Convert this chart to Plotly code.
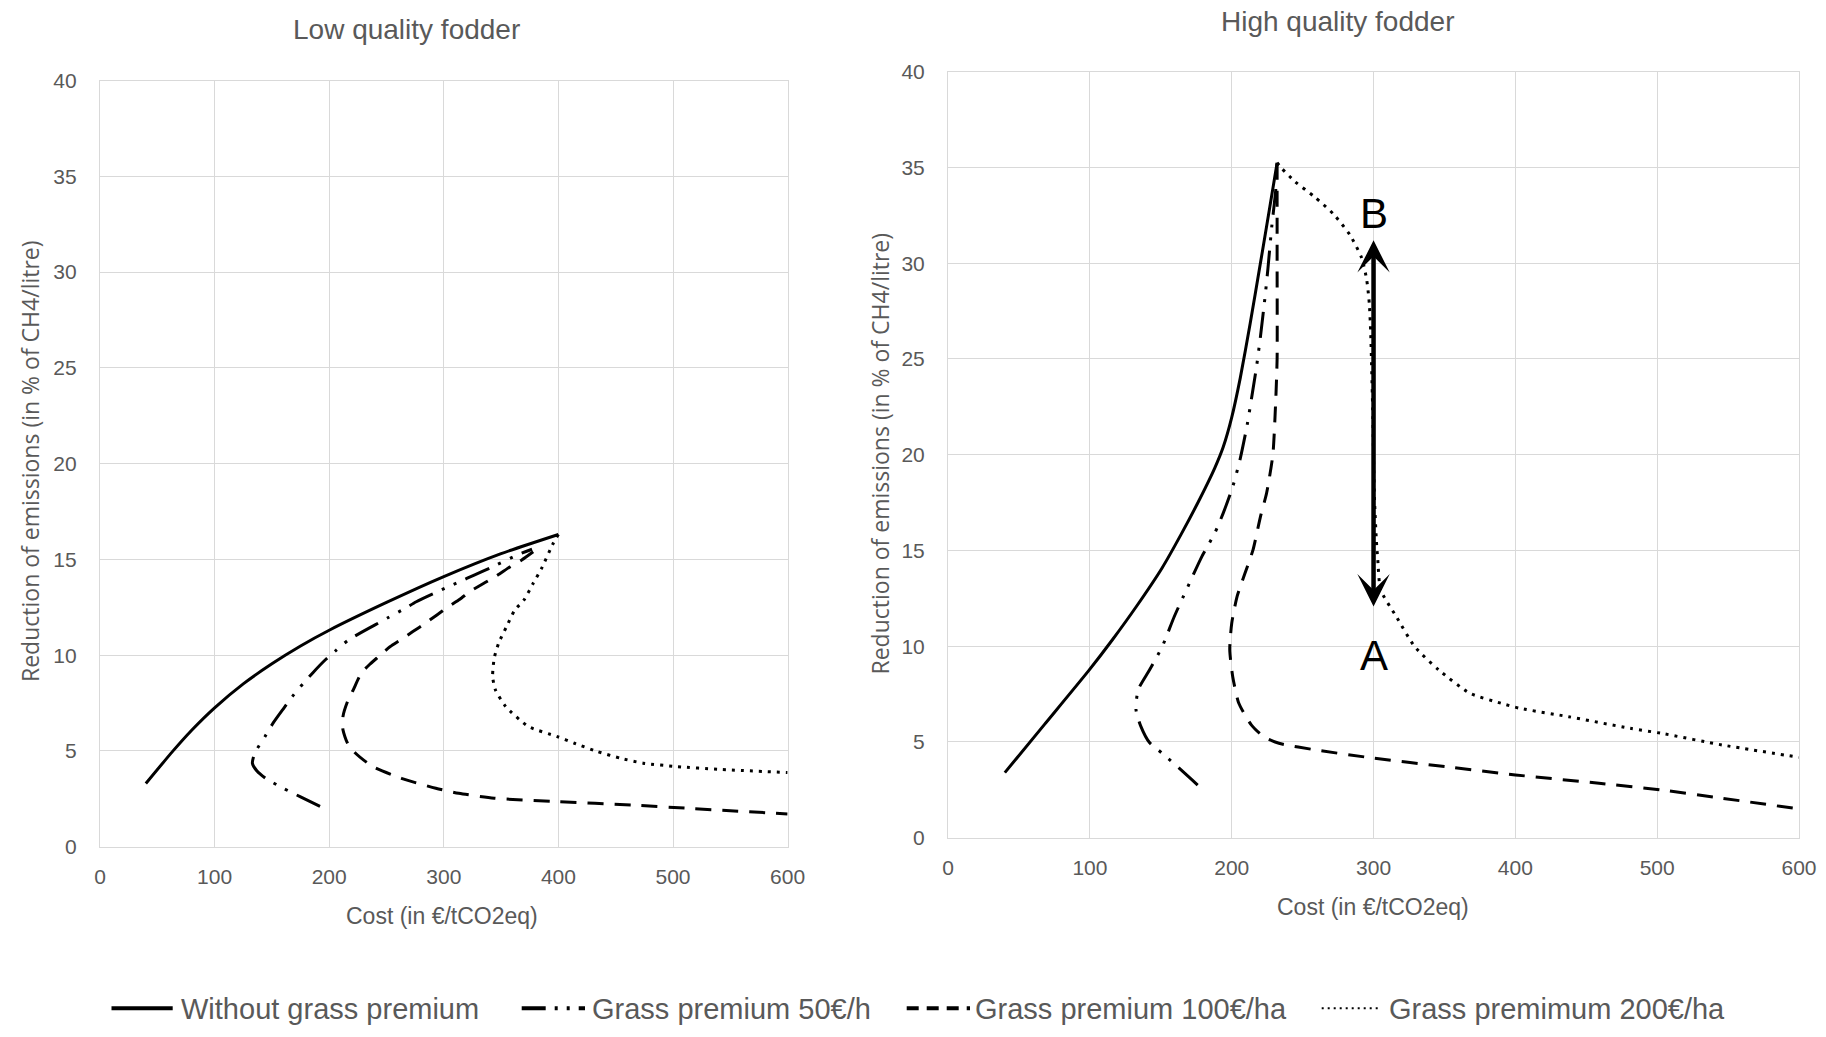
import plotly.graph_objects as go

W, H = 1826, 1037

# ---------------- data ----------------
SERIES_NAMES = ["Without grass premium", "Grass premium 50€/h",
                "Grass premium 100€/ha", "Grass premimum 200€/ha"]

# Low quality fodder
LOW_NONE_X = [40, 63, 80, 100, 125, 150, 175, 200, 250, 300, 350, 400]
LOW_NONE_Y = [3.3, 4.95, 6.08, 7.25, 8.5, 9.55, 10.48, 11.3, 12.75, 14.1, 15.3, 16.3]

LOW_50_X = [192, 175, 160, 145, 137, 133, 134, 136, 144, 151, 160, 168, 177, 186, 196,
            206, 217, 240, 252, 265, 276, 301, 314, 327, 340, 364, 377]
LOW_50_Y = [2.1, 2.6, 3.05, 3.55, 3.95, 4.35, 4.7, 5.0, 5.75, 6.45, 7.2, 7.85, 8.5, 9.1, 9.72,
            10.25, 10.8, 11.58, 11.98, 12.4, 12.79, 13.49, 13.84, 14.19, 14.54, 15.23, 15.53]

LOW_100_X = [378, 368, 358, 346, 336, 324, 314, 304, 294, 284, 273, 262, 253, 243, 235, 228,
             221, 216, 212, 212, 216, 223, 238, 263, 293, 313, 344, 400, 464, 514, 600]
LOW_100_Y = [15.4, 14.97, 14.62, 14.14, 13.79, 13.37, 12.92, 12.53, 12.1, 11.67, 11.23, 10.79,
             10.44, 9.92, 9.5, 9.06, 8.19, 7.58, 6.79, 6.1, 5.4, 4.88, 4.18, 3.57, 3.05, 2.79,
             2.53, 2.35, 2.18, 2.0, 1.71]

LOW_200_X = [400, 395.5, 385.4, 378, 370, 362, 355, 348, 344, 342.6, 345, 354, 374, 399, 414,
             434, 454, 474, 504, 539, 600]
LOW_200_Y = [16.3, 15.84, 14.54, 13.75, 12.88, 12.36, 11.52, 10.65, 9.84, 8.89, 8.19, 7.32,
             6.27, 5.75, 5.4, 4.97, 4.62, 4.36, 4.18, 4.04, 3.87]

# High quality fodder
HIGH_NONE_X = [40, 68, 99, 116, 133, 151, 164, 177, 188, 194, 200, 206, 213, 220, 227, 232]
HIGH_NONE_Y = [3.4, 5.92, 8.71, 10.35, 12.1, 14.1, 15.8, 17.62, 19.3, 20.4, 21.95, 24.0,
               26.85, 29.9, 33.0, 35.25]

HIGH_50_X = [176, 167, 151, 142, 136, 132.5, 134, 142, 151, 159.5, 168, 179, 188, 194, 201,
             206, 211, 214.5, 217.5, 220.3, 223.5, 225.5, 228.2, 231, 232]
HIGH_50_Y = [2.75, 3.36, 4.41, 4.97, 5.8, 6.67, 7.72, 8.76, 9.98, 11.55, 12.94, 14.69, 15.9,
             16.95, 18.4, 19.8, 21.6, 23.2, 24.6, 26.2, 28.25, 29.7, 31.9, 33.8, 35.2]

HIGH_100_X = [232, 232, 232, 231, 229, 224.6, 220.3, 215, 209.4, 203.8, 200, 198.6, 200.7,
              205, 213.8, 222.4, 233.3, 259.4, 300.6, 350.6, 400, 459, 503, 546, 600]
HIGH_100_Y = [35.2, 30, 25, 22.8, 20, 18.0, 16.78, 15.03, 13.82, 12.6, 11.2, 9.81, 8.41,
              7.02, 5.89, 5.28, 4.93, 4.58, 4.15, 3.71, 3.28, 2.84, 2.49, 2.06, 1.5]

HIGH_200_X = [232, 235, 244.6, 258.8, 271.7, 283.4, 291.7, 295.2, 297, 298, 299.5, 300.5,
              302, 303, 305, 316, 329, 346, 368, 390, 403, 437.5, 481, 503, 546, 600]
HIGH_200_Y = [35.25, 34.97, 34.26, 33.44, 32.57, 31.47, 30.26, 29.12, 27.9, 26.34, 22, 18,
              15.5, 14.5, 12.94, 11.55, 9.98, 8.76, 7.54, 7.02, 6.76, 6.32, 5.71, 5.45, 4.84,
              4.2]

# arrow between points A and B (high quality panel)
ARROW_X = 300
ARROW_Y = [12.0, 31.2]
LABEL_A = (300, 9.5)
LABEL_B = (300, 32.6)

X_TICKS = [0, 100, 200, 300, 400, 500, 600]
Y_TICKS = [0, 5, 10, 15, 20, 25, 30, 35, 40]

PANEL_TITLES = ["Low quality fodder", "High quality fodder"]
X_TITLE = "Cost (in €/tCO2eq)"
Y_TITLE = "Reduction of emissions (in % of CH4/litre)"

# ---------------- styles ----------------
DASHES = ["solid", "26px,10px,3px,10px,3px,10px", "16px,11px", "3px,6px"]
LINE_W = 3
GREY = "#595959"
GRID = "#d9d9d9"
FONT = "Liberation Sans, Arial, sans-serif"

fig = go.Figure()

low = [(LOW_NONE_X, LOW_NONE_Y), (LOW_50_X, LOW_50_Y), (LOW_100_X, LOW_100_Y), (LOW_200_X, LOW_200_Y)]
high = [(HIGH_NONE_X, HIGH_NONE_Y), (HIGH_50_X, HIGH_50_Y), (HIGH_100_X, HIGH_100_Y), (HIGH_200_X, HIGH_200_Y)]

for i, (xs, ys) in enumerate(low):
    fig.add_trace(go.Scatter(x=xs, y=ys, mode="lines", name=SERIES_NAMES[i], showlegend=False,
                             line=dict(color="black", width=LINE_W, dash=DASHES[i],
                                       shape="spline", smoothing=0.6),
                             xaxis="x", yaxis="y"))
for i, (xs, ys) in enumerate(high):
    fig.add_trace(go.Scatter(x=xs, y=ys, mode="lines", name=SERIES_NAMES[i], showlegend=False,
                             line=dict(color="black", width=LINE_W, dash=DASHES[i],
                                       shape="spline", smoothing=0.6),
                             xaxis="x2", yaxis="y2"))


def px_x(p):
    return p / W


def px_y(p):
    return 1 - p / H


axis_common = dict(showgrid=True, gridcolor=GRID, gridwidth=1.3, zeroline=False,
                   showline=True, linecolor=GRID, linewidth=1.3, mirror=True,
                   automargin=False,
                   ticks="", tickfont=dict(family=FONT, size=21, color=GREY))

fig.update_layout(
    width=W, height=H, autosize=False,
    margin=dict(l=0, r=0, t=0, b=0, pad=0),
    paper_bgcolor="white", plot_bgcolor="white",
    showlegend=False,
    xaxis=dict(domain=[px_x(100), px_x(787.6)], range=[0, 600], tickvals=X_TICKS,
               anchor="y", ticklabelstandoff=11, **axis_common),
    yaxis=dict(domain=[px_y(846.7), px_y(80.5)], range=[0, 40], tickvals=Y_TICKS,
               anchor="x", ticklabelstandoff=18, **axis_common),
    xaxis2=dict(domain=[px_x(948.1), px_x(1799)], range=[0, 600], tickvals=X_TICKS,
                anchor="y2", ticklabelstandoff=11, **axis_common),
    yaxis2=dict(domain=[px_y(837.7), px_y(71.7)], range=[0, 40], tickvals=Y_TICKS,
                anchor="x2", ticklabelstandoff=18, **axis_common),
)

ann = []
# panel titles
ann.append(dict(text=PANEL_TITLES[0], x=px_x(406), y=px_y(30), xref="paper", yref="paper",
                showarrow=False, xanchor="center", yanchor="middle",
                font=dict(family=FONT, size=28, color=GREY)))
ann.append(dict(text=PANEL_TITLES[1], x=px_x(1337), y=px_y(21.7), xref="paper", yref="paper",
                showarrow=False, xanchor="center", yanchor="middle",
                font=dict(family=FONT, size=28, color=GREY)))
# axis titles
ann.append(dict(text=X_TITLE, x=px_x(442), y=px_y(916), xref="paper", yref="paper",
                showarrow=False, xanchor="center", yanchor="middle",
                font=dict(family=FONT, size=23, color=GREY)))
ann.append(dict(text=X_TITLE, x=px_x(1373), y=px_y(907.3), xref="paper", yref="paper",
                showarrow=False, xanchor="center", yanchor="middle",
                font=dict(family=FONT, size=23, color=GREY)))
ann.append(dict(text=Y_TITLE, x=px_x(30), y=px_y(461), xref="paper", yref="paper",
                showarrow=False, xanchor="center", yanchor="middle", textangle=-90,
                font=dict(family="Open Sans, sans-serif", size=23, color=GREY)))
ann.append(dict(text=Y_TITLE, x=px_x(879.5), y=px_y(454), xref="paper", yref="paper",
                showarrow=False, xanchor="center", yanchor="middle", textangle=-90,
                font=dict(family="Open Sans, sans-serif", size=23, color=GREY)))
# arrow A <-> B
ann.append(dict(x=ARROW_X, y=ARROW_Y[1], ax=ARROW_X, ay=ARROW_Y[0], xref="x2", yref="y2",
                axref="x2", ayref="y2", text="", showarrow=True, arrowside="end+start",
                arrowhead=3, startarrowhead=3, arrowsize=1.2, startarrowsize=1.2,
                arrowwidth=4.5, arrowcolor="black", standoff=0, startstandoff=0))
ann.append(dict(text="A", x=LABEL_A[0], y=LABEL_A[1], xref="x2", yref="y2", showarrow=False,
                font=dict(family=FONT, size=42, color="black")))
ann.append(dict(text="B", x=LABEL_B[0], y=LABEL_B[1], xref="x2", yref="y2", showarrow=False,
                font=dict(family=FONT, size=42, color="black")))

# manual legend (symbol line + text)
LEG_SYMBOL_X = [(111.5, 172.7), (521.7, 585), (906.7, 970), (1321.7, 1378.3)]
LEG_TEXT_X = [178.5, 590, 973, 1386.7]
LEG_WIDTHS = [4, 4, 4, 2]
LEG_DASH = ["solid", "24px,9px,3px,9px,3px,9px", "12px,8px", "2px,4px"]
shapes = []
for i, name in enumerate(SERIES_NAMES):
    x0, x1 = LEG_SYMBOL_X[i]
    shapes.append(dict(type="line", xref="paper", yref="paper", x0=px_x(x0), x1=px_x(x1),
                       y0=px_y(1008.3), y1=px_y(1008.3),
                       line=dict(color="black", width=LEG_WIDTHS[i], dash=LEG_DASH[i])))
    ann.append(dict(text=name, x=px_x(LEG_TEXT_X[i]), y=px_y(1008.5), xref="paper", yref="paper",
                    showarrow=False, xanchor="left", yanchor="middle",
                    font=dict(family=FONT, size=29, color=GREY)))

fig.update_layout(annotations=ann, shapes=shapes)

fig.write_html("out.html", include_plotlyjs=True, config={"displayModeBar": False},
               post_script="document.body.style.margin='0';document.body.style.overflow='hidden';")
